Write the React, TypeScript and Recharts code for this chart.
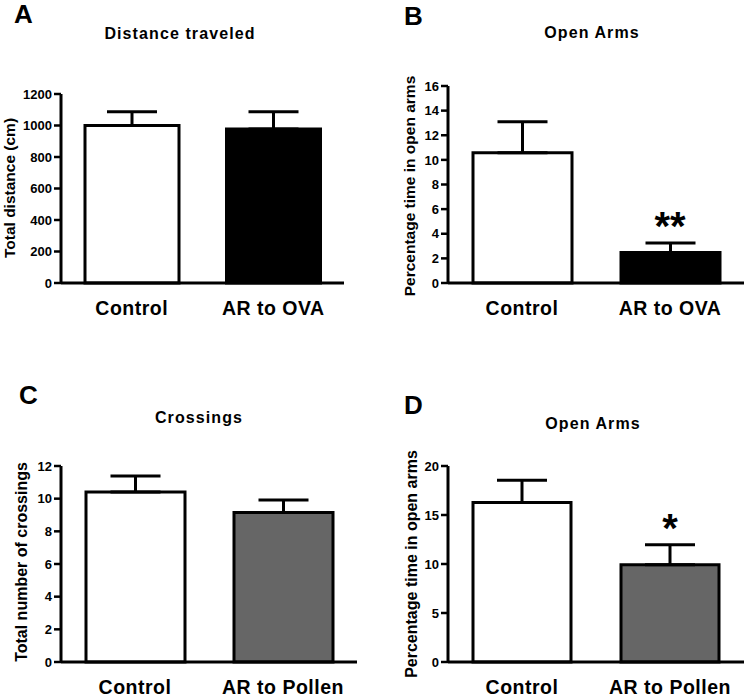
import { BarChart, Bar, XAxis, YAxis, ErrorBar, Cell, ReferenceDot } from 'recharts';

const ovaGroups = ['Control', 'AR to OVA'];
const pollenGroups = ['Control', 'AR to Pollen'];

const distanceMean = [1000, 978];
const distanceSem = [87, 109];
const distanceTicks = [0, 200, 400, 600, 800, 1000, 1200];

const ovaOpenArmsMean = [10.57, 2.47];
const ovaOpenArmsSem = [2.53, 0.78];
const ovaOpenArmsTicks = [0, 2, 4, 6, 8, 10, 12, 14, 16];
const ovaOpenArmsSig = ['', '**'];

const crossingsMean = [10.41, 9.15];
const crossingsSem = [0.98, 0.77];
const crossingsTicks = [0, 2, 4, 6, 8, 10, 12];

const pollenOpenArmsMean = [16.27, 9.93];
const pollenOpenArmsSem = [2.27, 2.03];
const pollenOpenArmsTicks = [0, 5, 10, 15, 20];
const pollenOpenArmsSig = ['', '*'];

const FONT = '"Liberation Sans", Arial, sans-serif';

// y tick text drawn by hand so bold/size really stick
const YTick = (props: any) => (
  <text
    x={props.x}
    y={props.y}
    dy="0.36em"
    textAnchor="end"
    fill="#000"
    fontSize={13}
    fontWeight="bold"
    fontFamily={FONT}
  >
    {props.payload.value}
  </text>
);

interface PanelProps {
  left: number;
  top: number;
  groups: string[];
  mean: number[];
  sem: number[];
  sig?: string[];
  ticks: number[];
  fills: string[];
  yAxisWidth: number;
  margin: { top: number; right: number; bottom: number; left: number };
  barSize: number;
}

function Panel({ left, top, groups, mean, sem, sig, ticks, fills, yAxisWidth, margin, barSize }: PanelProps) {
  const data = groups.map((g, i) => ({ group: g, mean: mean[i], sem: [0, sem[i]] }));
  return (
    <div style={{ position: 'absolute', left, top }}>
      <BarChart width={375} height={349} data={data} margin={margin}>
        <XAxis
          dataKey="group"
          interval={0}
          height={30}
          axisLine={{ stroke: '#000', strokeWidth: 3 }}
          tickLine={false}
          tickSize={0}
          tickMargin={18}
          tick={{ fill: '#000', fontSize: 19.5, fontWeight: 'bold', fontFamily: FONT, letterSpacing: 0.5 }}
        />
        <YAxis
          domain={[ticks[0], ticks[ticks.length - 1]]}
          ticks={ticks}
          interval={0}
          width={yAxisWidth}
          axisLine={{ stroke: '#000', strokeWidth: 3 }}
          tickLine={{ stroke: '#000', strokeWidth: 2.5 }}
          tickSize={7}
          tickMargin={2}
          tick={YTick}
        />
        <Bar dataKey="mean" barSize={barSize} stroke="#000" strokeWidth={3} isAnimationActive={false}>
          {data.map((d, i) => (
            <Cell key={d.group} fill={fills[i]} />
          ))}
          <ErrorBar dataKey="sem" direction="y" width={25} stroke="#000" strokeWidth={3} isAnimationActive={false} />
        </Bar>
        {sig &&
          groups.map((g, i) =>
            sig[i] ? (
              <ReferenceDot
                key={g}
                x={g}
                y={mean[i] + sem[i]}
                r={0}
                stroke="none"
                label={{ value: sig[i], position: 'top', offset: 3, fill: '#000', fontSize: 40, fontWeight: 'bold', fontFamily: FONT }}
              />
            ) : null,
          )}
      </BarChart>
    </div>
  );
}

const letterStyle = { fontSize: 26, fontWeight: 'bold' as const, fontFamily: FONT, fill: '#000' };
const titleStyle = { fontSize: 16, fontWeight: 'bold' as const, fontFamily: FONT, fill: '#000', letterSpacing: 1.1 };
const yLabelStyle = { fontSize: 15.5, fontWeight: 'bold' as const, fontFamily: FONT, fill: '#000' };

export default function App() {
  return (
    <div style={{ position: 'absolute', left: 0, top: 0, width: 750, height: 698, background: '#fff' }}>
      <Panel
        left={0}
        top={0}
        groups={ovaGroups}
        mean={distanceMean}
        sem={distanceSem}
        ticks={distanceTicks}
        fills={['#fff', '#000']}
        yAxisWidth={61}
        margin={{ top: 94, right: 31, bottom: 36, left: 0 }}
        barSize={94}
      />
      <Panel
        left={375}
        top={0}
        groups={ovaGroups}
        mean={ovaOpenArmsMean}
        sem={ovaOpenArmsSem}
        sig={ovaOpenArmsSig}
        ticks={ovaOpenArmsTicks}
        fills={['#fff', '#000']}
        yAxisWidth={73}
        margin={{ top: 86, right: 6, bottom: 36, left: 0 }}
        barSize={99}
      />
      <Panel
        left={0}
        top={349}
        groups={pollenGroups}
        mean={crossingsMean}
        sem={crossingsSem}
        ticks={crossingsTicks}
        fills={['#fff', '#666']}
        yAxisWidth={61}
        margin={{ top: 117, right: 18, bottom: 6, left: 0 }}
        barSize={99}
      />
      <Panel
        left={375}
        top={349}
        groups={pollenGroups}
        mean={pollenOpenArmsMean}
        sem={pollenOpenArmsSem}
        sig={pollenOpenArmsSig}
        ticks={pollenOpenArmsTicks}
        fills={['#fff', '#666']}
        yAxisWidth={73}
        margin={{ top: 117, right: 6, bottom: 6, left: 0 }}
        barSize={98}
      />
      <svg width={750} height={698} style={{ position: 'absolute', left: 0, top: 0, pointerEvents: 'none' }}>
        <text x={14} y={23} style={letterStyle}>A</text>
        <text x={404} y={25} style={letterStyle}>B</text>
        <text x={19} y={404} style={letterStyle}>C</text>
        <text x={404} y={414} style={letterStyle}>D</text>
        <text x={180} y={39} textAnchor="middle" style={titleStyle}>Distance traveled</text>
        <text x={592} y={38} textAnchor="middle" style={titleStyle}>Open Arms</text>
        <text x={199} y={423} textAnchor="middle" style={titleStyle}>Crossings</text>
        <text x={593} y={429} textAnchor="middle" style={titleStyle}>Open Arms</text>
        <text x={15} y={188} transform="rotate(-90 15 188)" textAnchor="middle" style={yLabelStyle}>Total distance (cm)</text>
        <text x={415} y={186} transform="rotate(-90 415 186)" textAnchor="middle" style={yLabelStyle}>Percentage time in open arms</text>
        <text x={27} y={562} transform="rotate(-90 27 562)" textAnchor="middle" style={{ ...yLabelStyle, fontSize: 16 }}>Total number of crossings</text>
        <text x={417} y={564} transform="rotate(-90 417 564)" textAnchor="middle" style={{ ...yLabelStyle, fontSize: 16 }}>Percentage time in open arms</text>
      </svg>
    </div>
  );
}
